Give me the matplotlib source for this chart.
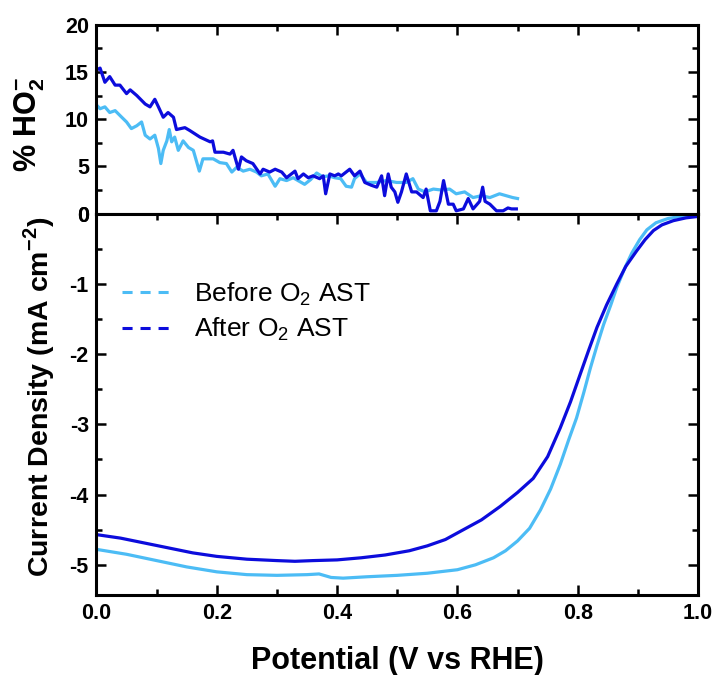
import matplotlib
matplotlib.use('Agg')
import matplotlib.pyplot as plt
from matplotlib.ticker import MultipleLocator

# === Fonts ===
plt.rcParams['font.family'] = ['Liberation Sans', 'DejaVu Sans']
plt.rcParams['mathtext.fontset'] = 'custom'
plt.rcParams['mathtext.rm'] = 'Liberation Sans'
plt.rcParams['mathtext.bf'] = 'Liberation Sans:bold'

# === Colours ===
c_before = '#4cbcf5'
c_after = '#0c0cdc'

# === Top panel: % HO2- ===
ho2_before_v = [0.000, 0.006, 0.014, 0.022, 0.031, 0.042, 0.050, 0.058, 0.067, 0.075,
                0.081, 0.089, 0.097, 0.103, 0.107, 0.111, 0.117, 0.121, 0.125, 0.130,
                0.136, 0.144, 0.153, 0.161, 0.171, 0.177, 0.194, 0.205, 0.216, 0.225,
                0.233, 0.244, 0.255, 0.266, 0.274, 0.285, 0.297, 0.305, 0.316, 0.327,
                0.335, 0.346, 0.356, 0.366, 0.376, 0.386, 0.396, 0.406, 0.415, 0.424,
                0.429, 0.438, 0.449, 0.466, 0.482, 0.499, 0.515, 0.526, 0.535, 0.546,
                0.560, 0.573, 0.587, 0.598, 0.612, 0.626, 0.640, 0.654, 0.670, 0.681,
                0.692, 0.700]
ho2_before = [11.5, 11.1, 11.3, 10.7, 10.9, 10.2, 9.7, 9.0, 9.3, 9.7,
              8.3, 7.9, 8.3, 6.9, 5.3, 6.7, 7.7, 8.9, 7.6, 8.1,
              6.7, 7.7, 7.0, 6.7, 4.5, 5.8, 5.8, 5.4, 5.3, 4.4,
              4.9, 4.5, 4.7, 4.4, 4.0, 4.2, 2.9, 3.7, 3.5, 3.8,
              3.5, 3.1, 3.6, 4.3, 3.9, 4.0, 3.8, 3.7, 2.9, 2.8,
              3.7, 4.2, 3.3, 3.3, 3.5, 3.3, 3.3, 3.7, 2.6, 2.3,
              2.6, 2.5, 2.6, 2.1, 2.3, 1.7, 1.9, 1.7, 2.1, 1.9,
              1.7, 1.6]

ho2_after_v = [0.000, 0.006, 0.014, 0.022, 0.031, 0.039, 0.050, 0.056, 0.067, 0.081,
               0.089, 0.097, 0.103, 0.111, 0.119, 0.128, 0.133, 0.147, 0.155, 0.172,
               0.189, 0.193, 0.197, 0.211, 0.222, 0.227, 0.236, 0.241, 0.249, 0.260,
               0.272, 0.277, 0.288, 0.297, 0.308, 0.316, 0.324, 0.330, 0.335, 0.344,
               0.352, 0.360, 0.371, 0.377, 0.381, 0.388, 0.396, 0.402, 0.407, 0.421,
               0.429, 0.438, 0.446, 0.457, 0.466, 0.474, 0.479, 0.485, 0.490, 0.496,
               0.501, 0.507, 0.515, 0.524, 0.532, 0.543, 0.548, 0.555, 0.565, 0.571,
               0.577, 0.585, 0.593, 0.598, 0.610, 0.618, 0.626, 0.637, 0.642, 0.646,
               0.654, 0.665, 0.676, 0.684, 0.690, 0.698]
ho2_after = [15.2, 15.4, 13.9, 14.5, 13.6, 13.6, 12.7, 13.1, 12.5, 11.6,
             11.3, 12.1, 11.3, 10.2, 10.7, 10.2, 8.9, 9.1, 8.8, 8.1,
             7.6, 7.7, 6.5, 6.5, 6.3, 6.7, 4.7, 6.0, 5.6, 5.3,
             4.2, 4.7, 4.4, 4.7, 4.4, 3.8, 4.2, 4.5, 3.7, 4.2,
             3.8, 4.0, 3.7, 4.0, 2.1, 4.2, 4.0, 4.2, 4.0, 4.7,
             4.0, 4.5, 3.3, 3.0, 2.8, 4.0, 1.9, 4.2, 2.8, 2.3,
             1.2, 2.3, 4.2, 2.3, 2.3, 1.7, 2.6, 0.3, 0.3, 1.3,
             3.5, 1.0, 1.0, 0.3, 0.5, 1.6, 0.5, 1.3, 2.8, 1.3,
             1.0, 0.3, 0.3, 0.6, 0.5, 0.5]

# === Bottom panel: current density ===
j_before_v = [0.00, 0.05, 0.10, 0.15, 0.20, 0.25, 0.30, 0.35, 0.37, 0.39,
              0.41, 0.45, 0.50, 0.55, 0.60, 0.63, 0.66, 0.68, 0.70, 0.72,
              0.738, 0.755, 0.771, 0.785, 0.798, 0.81, 0.821, 0.832, 0.843, 0.855,
              0.865, 0.878, 0.890, 0.903, 0.915, 0.93, 0.95, 0.97, 1.00]
j_before = [-4.78, -4.85, -4.94, -5.03, -5.10, -5.14, -5.15, -5.14, -5.13, -5.18,
            -5.19, -5.17, -5.15, -5.12, -5.07, -5.00, -4.90, -4.80, -4.66, -4.48,
            -4.22, -3.92, -3.57, -3.22, -2.91, -2.55, -2.20, -1.88, -1.58, -1.30,
            -1.05, -0.78, -0.56, -0.37, -0.23, -0.13, -0.07, -0.04, -0.03]

j_after_v = [0.00, 0.04, 0.08, 0.12, 0.16, 0.20, 0.25, 0.30, 0.33, 0.36,
             0.40, 0.44, 0.48, 0.52, 0.55, 0.58, 0.61, 0.64, 0.671, 0.70,
             0.726, 0.75, 0.771, 0.788, 0.804, 0.818, 0.832, 0.848, 0.865, 0.88,
             0.898, 0.912, 0.926, 0.94, 0.959, 0.98, 1.00]
j_after = [-4.57, -4.62, -4.69, -4.76, -4.83, -4.88, -4.92, -4.94, -4.95, -4.94,
           -4.93, -4.90, -4.86, -4.80, -4.73, -4.64, -4.50, -4.36, -4.17, -3.97,
           -3.77, -3.46, -3.05, -2.68, -2.29, -1.95, -1.62, -1.30, -1.00, -0.75,
           -0.53, -0.37, -0.24, -0.16, -0.10, -0.06, -0.04]

# === Figure ===
fig = plt.figure(figsize=(7.13, 6.75), dpi=100)
ax_top = fig.add_axes([0.1353, 0.6835, 0.8437, 0.2800])
ax_bot = fig.add_axes([0.1353, 0.1185, 0.8437, 0.5650])

lw = 2.3
ax_top.plot(ho2_before_v, ho2_before, color=c_before, lw=lw)
ax_top.plot(ho2_after_v, ho2_after, color=c_after, lw=lw)
ax_bot.plot(j_before_v, j_before, color=c_before, lw=lw, label=r'Before O$_\mathrm{2}$ AST')
ax_bot.plot(j_after_v, j_after, color=c_after, lw=lw, label=r'After O$_\mathrm{2}$ AST')

ax_top.set_xlim(0, 1)
ax_top.set_ylim(0, 20)
ax_bot.set_xlim(0, 1)
ax_bot.set_ylim(-5.43, 0)

tick_fs = 15.5
for ax in (ax_top, ax_bot):
    for s in ax.spines.values():
        s.set_linewidth(2.2)
    ax.xaxis.set_major_locator(MultipleLocator(0.2))
    ax.xaxis.set_minor_locator(MultipleLocator(0.1))
    ax.tick_params(which='both', direction='in', width=1.8, right=True, pad=5.5)
    ax.tick_params(which='major', length=7)
    ax.tick_params(which='minor', length=4.5)

ax_top.yaxis.set_major_locator(MultipleLocator(5))
ax_top.yaxis.set_minor_locator(MultipleLocator(2.5))
ax_top.tick_params(which='both', top=True, bottom=False, labelbottom=False, labelsize=tick_fs)
ax_bot.yaxis.set_major_locator(MultipleLocator(1))
ax_bot.yaxis.set_minor_locator(MultipleLocator(0.5))
ax_bot.tick_params(which='both', top=True, labelsize=tick_fs)
ax_bot.set_yticks([0, -1, -2, -3, -4, -5])
ax_bot.set_yticklabels(['0', '-1', '-2', '-3', '-4', '-5'])
ax_bot.set_xticks([0.0, 0.2, 0.4, 0.6, 0.8, 1.0])
ax_bot.set_xticklabels(['0.0', '0.2', '0.4', '0.6', '0.8', '1.0'])
for lab in ax_top.get_yticklabels() + ax_bot.get_yticklabels() + ax_bot.get_xticklabels():
    lab.set_fontweight('bold')

ax_top.set_ylabel(r'% HO$_\mathbf{2}^\mathbf{-}$', fontsize=22, fontweight='bold')
ax_bot.set_ylabel(r'Current Density (mA cm$^\mathbf{-2}$)', fontsize=20.5, fontweight='bold')
ax_bot.set_xlabel('Potential (V vs RHE)', fontsize=22, fontweight='bold', labelpad=16)
ax_top.yaxis.set_label_coords(-0.083, 0.47)
ax_bot.yaxis.set_label_coords(-0.066, 0.52)

leg = ax_bot.legend(loc='upper left', bbox_to_anchor=(0.043, 0.825), frameon=False,
                    fontsize=19, handlelength=1.9, handletextpad=0.8, labelspacing=0.3,
                    borderpad=0, borderaxespad=0)
for h in leg.get_lines():
    h.set_linestyle((0, (3.3, 2.6)))
    h.set_linewidth(2.2)

fig.savefig('out.png', dpi=100)
